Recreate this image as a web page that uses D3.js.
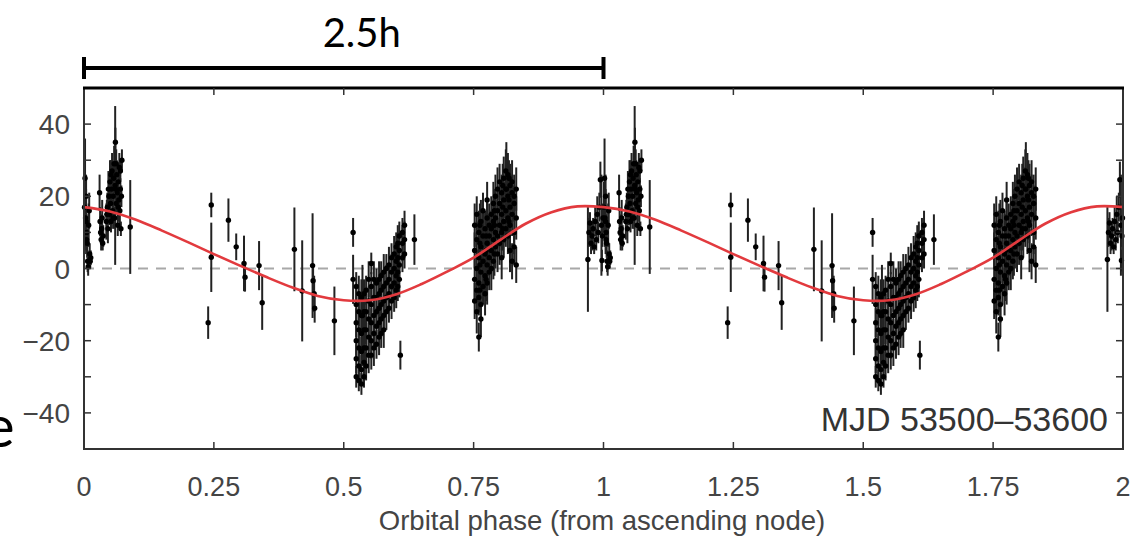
<!DOCTYPE html>
<html>
<head>
<meta charset="utf-8">
<script src="https://cdn.jsdelivr.net/npm/d3@7"></script>
<style>
  body { margin: 0; background: #fff; }
  svg { display: block; }
</style>
</head>
<body>
<svg id="chart" width="1141" height="541"></svg>
<script>
// folded radial-velocity points: phase, value, error (drawn at phase and phase + 1)
const phases = [
  0.002, 0.003, 0.004, 0.005, 0.006, 0.007, 0.008, 0.009, 0.010, 0.011, 0.012, 0.005, 0.013, 0.001, 0.004,
  0.030, 0.031, 0.032, 0.033, 0.034, 0.035, 0.036, 0.037,
  0.043, 0.045, 0.046, 0.048, 0.049, 0.050, 0.051, 0.052, 0.053, 0.054, 0.055, 0.056, 0.057, 0.058, 0.059,
  0.060, 0.0605, 0.061, 0.062, 0.063, 0.064, 0.065, 0.066, 0.067, 0.068, 0.069, 0.070, 0.071, 0.072, 0.073,
  0.044, 0.047, 0.052, 0.056, 0.062, 0.066, 0.070,
  0.089,
  0.239, 0.245, 0.245, 0.278, 0.293, 0.308, 0.310, 0.337, 0.343, 0.405, 0.420, 0.440, 0.441, 0.443, 0.444,
  0.482, 0.518, 0.518,
  0.524, 0.524, 0.524, 0.524, 0.524, 0.524,
  0.529, 0.529, 0.529, 0.529, 0.529, 0.529,
  0.534, 0.534, 0.534, 0.534, 0.534, 0.534, 0.536,
  0.539, 0.539, 0.539, 0.539, 0.539, 0.539,
  0.543, 0.543, 0.543, 0.543, 0.543,
  0.548, 0.548, 0.548, 0.548, 0.548,
  0.553, 0.553, 0.553, 0.553, 0.553, 0.553,
  0.558, 0.558, 0.558, 0.558, 0.558,
  0.563, 0.563, 0.563, 0.563, 0.563,
  0.568, 0.568, 0.568, 0.568, 0.568,
  0.572, 0.572, 0.572, 0.572, 0.572,
  0.577, 0.577, 0.577, 0.577, 0.577,
  0.582, 0.582, 0.582, 0.582,
  0.587, 0.587, 0.587, 0.587,
  0.592, 0.592, 0.592, 0.592,
  0.597, 0.597, 0.597, 0.597,
  0.601, 0.601, 0.601, 0.601,
  0.604, 0.604, 0.604, 0.604,
  0.607, 0.607, 0.607, 0.607, 0.609,
  0.613, 0.613, 0.613, 0.617, 0.617, 0.617, 0.636,
  0.752, 0.752, 0.752, 0.752,
  0.756, 0.756, 0.756, 0.756, 0.756,
  0.760, 0.760, 0.760, 0.760, 0.760,
  0.762, 0.762, 0.762, 0.762,
  0.764, 0.764, 0.764, 0.764, 0.764,
  0.768, 0.768, 0.768, 0.768,
  0.772, 0.772, 0.772, 0.772,
  0.774, 0.774, 0.774,
  0.776, 0.776, 0.776, 0.776, 0.776,
  0.780, 0.780, 0.780, 0.780,
  0.784, 0.784, 0.784, 0.784,
  0.788, 0.788, 0.788, 0.788,
  0.790, 0.790, 0.790,
  0.792, 0.792, 0.792, 0.792,
  0.796, 0.796, 0.796, 0.796,
  0.800, 0.800, 0.800, 0.800,
  0.804, 0.804, 0.804, 0.804,
  0.806, 0.806, 0.806,
  0.808, 0.808, 0.808, 0.808,
  0.812, 0.812, 0.812, 0.812, 0.813,
  0.816, 0.816, 0.816, 0.816,
  0.818, 0.818, 0.818,
  0.820, 0.820, 0.820, 0.820,
  0.824, 0.824, 0.824, 0.824,
  0.828, 0.828, 0.828, 0.828,
  0.832, 0.832, 0.832,
  0.970, 0.972, 0.974, 0.976, 0.978, 0.980, 0.982, 0.984, 0.986, 0.988, 0.990, 0.992, 0.994, 0.996, 0.997, 0.998, 0.999
];
const velocities = [
  25, 14, 20, 10, 7, 2, 0.5, 12, 16, 4, 2, 8, 3, 17, 13,
  21, 13, 10, 8, 11, 14, 7, 9,
  13, 17, 11, 20, 15, 24, 18, 13, 22, 27, 16, 20, 25, 29, 14,
  23, 35, 22, 18, 26, 21, 12, 24, 19, 28, 16, 22, 11, 20, 30,
  15, 22, 26, 14, 29, 17, 27,
  11.5,
  -15, 17.6, 3.1, 13.4, 6, 1.4, -2.4, 0.8, -9.5, 5.3, -6.2, 0.8, -3.4, -7, -11,
  -14.5, 10, -3,
  -5, -10, -15, -20, -25, -30,
  -7, -12, -17, -22, -27, -31,
  -8, -13, -18, -23, -28, -32, -13,
  -7, -12, -17, -22, -26, -30,
  -6, -12, -17, -22, -27,
  -3, -9, -14, -19, -24,
  1.4, -5, -10, -15, -20, -24,
  -3, -8, -13, -18, -22,
  -4, -8, -12, -16, -21,
  -3, -7, -11, -15, -19,
  -2, -6, -10, -14, -18,
  -1, -5, -9, -13, -17,
  0, -4, -8, -12,
  1, -3, -7, -11,
  3, -1, -5, -9,
  4, 0, -4, -8,
  6, 2, -2, -6,
  7, 3, -1, -5,
  9, 5, 1, -3, -24,
  10, 7, 3, 12, 8, 4, 8,
  5, -3, -9, 12,
  0, -6, 8, -12, 15,
  3, -4, 10, -8, -19,
  1, -6, 7, 12,
  -1, 6, -10, 13, -14,
  2, -5, 9, 16,
  -2, 4, 11, -7,
  -3, 5, 9,
  1, 7, -4, 14, 19,
  3, 9, -1, 12,
  5, 11, 0, 15,
  8, 13, 2, 18,
  4, 12, 16,
  6, 14, 20, 10,
  9, 16, 4, 22,
  12, 18, 7, 24,
  10, 15, 21, 3,
  11, 17, 23,
  13, 19, 25, 8,
  16, 22, 11, 27, 22,
  14, 20, 26, 9,
  13, 19, 25,
  17, 23, 12, 5,
  15, 21, 24, 2,
  18, 10, 6, 20,
  14, 1, 22,
  2.5, 10, 12.6, 7, 9, 11, 6, 13, 8, 15, 10, 17, 24.6, 12, 2.2, 9, 14
];
const errors = [
  11, 8, 6, 5, 4, 3, 2.5, 6, 5, 3, 2, 3, 2, 7, 9,
  5, 4, 3, 3, 4, 5, 2, 3,
  5, 4, 4, 5, 3, 6, 4, 3, 4, 5, 3, 4, 4, 5, 3,
  22, 4, 4, 3, 4, 3, 3, 5, 3, 4, 4, 3, 2, 3, 3,
  4, 5, 4, 3, 4, 4, 3,
  13,
  4.5, 3.4, 9.6, 6, 3.7, 7.7, 4, 6.8, 7.5, 11.6, 14, 14.5, 4, 5, 4,
  9.5, 4, 6.8,
  4, 5, 4, 5, 4, 3,
  5, 4, 5, 4, 5, 3,
  5, 4, 5, 4, 4, 3, 14,
  4, 5, 4, 5, 4, 3,
  4, 5, 4, 5, 4,
  5, 4, 5, 4, 5,
  3, 4, 5, 4, 5, 4,
  5, 4, 5, 4, 5,
  4, 5, 4, 5, 4,
  5, 4, 5, 4, 5,
  4, 5, 4, 5, 4,
  5, 4, 5, 4, 5,
  4, 5, 4, 5,
  5, 4, 5, 4,
  4, 5, 4, 5,
  5, 4, 5, 4,
  4, 5, 4, 5,
  5, 4, 5, 4,
  4, 5, 4, 5, 4,
  4, 5, 4, 4, 5, 4, 7,
  5, 6, 5, 6,
  5, 6, 5, 6, 5,
  6, 5, 6, 5, 4,
  5, 6, 5, 6,
  5, 6, 5, 6, 5,
  6, 5, 6, 5,
  5, 6, 5, 6,
  6, 5, 6,
  6, 5, 6, 5, 5,
  5, 6, 5, 6,
  6, 5, 6, 5,
  5, 6, 5, 6,
  6, 5, 6,
  6, 5, 6, 5,
  5, 6, 5, 6,
  6, 5, 6, 5,
  5, 6, 5, 6,
  6, 5, 6,
  6, 5, 6, 5,
  5, 6, 5, 6, 13,
  6, 5, 6, 5,
  5, 6, 5,
  5, 6, 5, 6,
  6, 5, 6, 5,
  5, 6, 5, 6,
  6, 5, 6,
  14.5, 4, 3, 3, 4, 3, 2, 4, 3, 5, 3, 4, 5, 14, 3, 3, 4
];

// model curve, one orbit (repeated for phase 1-2)
const modelPhase = [0, 0.05, 0.1, 0.15, 0.2, 0.25, 0.3, 0.35, 0.4, 0.45, 0.5, 0.55, 0.6, 0.65, 0.7, 0.75, 0.8, 0.85, 0.9, 0.95, 1.0];
const modelVel = [17, 15.8, 13.5, 10.5, 7.3, 4, 0.8, -2.3, -5.2, -7.6, -8.8, -8.8, -7.2, -4.3, -0.8, 3, 7.8, 12.4, 15.6, 17.2, 17];

const xTicks = [0, 0.25, 0.5, 0.75, 1, 1.25, 1.5, 1.75, 2];
const xTickLabels = ['0', '0.25', '0.5', '0.75', '1', '1.25', '1.5', '1.75', '2'];
const yTicks = [40, 20, 0, -20, -40];
const yTickLabels = ['40', '20', '0', '\u221220', '\u221240'];
const yMinor = [30, 10, -10, -30];

const svg = d3.select('#chart');
const plotLeft = 84, plotRight = 1123, plotTop = 88, plotBottom = 449;

const x = d3.scaleLinear().domain([0, 2]).range([plotLeft, plotRight]);
const y = d3.scaleLinear().domain([-50, 50]).range([plotBottom, plotTop]);

const tickFont = '"Liberation Sans", Arial, sans-serif';

// zero line
svg.append('line')
    .attr('x1', plotLeft).attr('x2', plotRight)
    .attr('y1', y(0)).attr('y2', y(0))
    .attr('stroke', '#a8a8a8')
    .attr('stroke-width', 2)
    .attr('stroke-dasharray', '10,8');

// data, folded twice
const points = [];
for (let k = 0; k < 2; k++) {
    phases.forEach((p, i) => points.push({p: p + k, v: velocities[i], e: errors[i]}));
}

const g = svg.append('g');
g.selectAll('line.err')
    .data(points)
    .join('line')
    .attr('class', 'err')
    .attr('x1', d => x(d.p)).attr('x2', d => x(d.p))
    .attr('y1', d => y(d.v - d.e)).attr('y2', d => y(d.v + d.e))
    .attr('stroke', '#222')
    .attr('stroke-width', 2);

g.selectAll('circle')
    .data(points)
    .join('circle')
    .attr('cx', d => x(d.p))
    .attr('cy', d => y(d.v))
    .attr('r', 2.7)
    .attr('fill', '#000');

// model curve
const model = [];
for (let k = 0; k < 2; k++) {
    modelPhase.forEach((p, i) => {
        if (k === 1 && i === 0) return;
        model.push([p + k, modelVel[i]]);
    });
}
svg.append('path')
    .datum(model)
    .attr('fill', 'none')
    .attr('stroke', '#e23a3e')
    .attr('stroke-width', 2.6)
    .attr('d', d3.line().x(d => x(d[0])).y(d => y(d[1])).curve(d3.curveCatmullRom));

// frame
svg.append('rect')
    .attr('x', plotLeft).attr('y', plotTop)
    .attr('width', plotRight - plotLeft).attr('height', plotBottom - plotTop)
    .attr('fill', 'none')
    .attr('stroke', '#333')
    .attr('stroke-width', 2);
svg.append('line')
    .attr('x1', plotLeft - 1).attr('x2', plotRight + 1)
    .attr('y1', plotTop).attr('y2', plotTop)
    .attr('stroke', '#000').attr('stroke-width', 3);

// ticks, all pointing inward
const tickLen = 7;
xTicks.slice(1, -1).forEach(t => {
    svg.append('line').attr('x1', x(t)).attr('x2', x(t))
        .attr('y1', plotBottom).attr('y2', plotBottom - tickLen)
        .attr('stroke', '#333').attr('stroke-width', 1.5);
    svg.append('line').attr('x1', x(t)).attr('x2', x(t))
        .attr('y1', plotTop).attr('y2', plotTop + tickLen)
        .attr('stroke', '#333').attr('stroke-width', 1.5);
});
yTicks.concat(yMinor).forEach(t => {
    svg.append('line').attr('x1', plotLeft).attr('x2', plotLeft + tickLen)
        .attr('y1', y(t)).attr('y2', y(t))
        .attr('stroke', '#333').attr('stroke-width', 1.5);
    svg.append('line').attr('x1', plotRight).attr('x2', plotRight - tickLen)
        .attr('y1', y(t)).attr('y2', y(t))
        .attr('stroke', '#333').attr('stroke-width', 1.5);
});

// tick labels
svg.append('g').selectAll('text')
    .data(xTicks)
    .join('text')
    .attr('x', d => x(d))
    .attr('y', 496)
    .attr('text-anchor', 'middle')
    .attr('font-family', tickFont)
    .attr('font-size', 27)
    .attr('fill', '#444')
    .text((d, i) => xTickLabels[i]);

svg.append('g').selectAll('text')
    .data(yTicks)
    .join('text')
    .attr('x', 70)
    .attr('y', d => y(d) + 10)
    .attr('text-anchor', 'end')
    .attr('font-family', tickFont)
    .attr('font-size', 28)
    .attr('fill', '#444')
    .text((d, i) => yTickLabels[i]);

svg.append('text')
    .attr('x', 602)
    .attr('y', 530)
    .attr('text-anchor', 'middle')
    .attr('font-family', tickFont)
    .attr('font-size', 27.5)
    .attr('fill', '#444')
    .text('Orbital phase (from ascending node)');

svg.append('text')
    .attr('x', 1108)
    .attr('y', 431)
    .attr('text-anchor', 'end')
    .attr('font-family', tickFont)
    .attr('font-size', 34)
    .attr('fill', '#333')
    .text('MJD 53500\u201353600');

// scale bar: one orbit = 2.5 h
const barY = 68;
svg.append('line')
    .attr('x1', x(0)).attr('x2', x(1))
    .attr('y1', barY).attr('y2', barY)
    .attr('stroke', '#000').attr('stroke-width', 4);
[0, 1].forEach(t => {
    svg.append('line')
        .attr('x1', x(t)).attr('x2', x(t))
        .attr('y1', barY - 11).attr('y2', barY + 11)
        .attr('stroke', '#000').attr('stroke-width', 4);
});
svg.append('text')
    .attr('x', (x(0) + x(1)) / 2 + 18)
    .attr('y', 47)
    .attr('text-anchor', 'middle')
    .attr('font-family', 'Lato, sans-serif')
    .attr('font-size', 40)
    .attr('fill', '#000')
    .text('2.5h');

// fragment of a label that the crop cuts at the left edge
svg.append('text')
    .attr('x', -16)
    .attr('y', 447)
    .attr('font-family', 'Lato, sans-serif')
    .attr('font-size', 58)
    .attr('fill', '#000')
    .text('e');
</script>
</body>
</html>
